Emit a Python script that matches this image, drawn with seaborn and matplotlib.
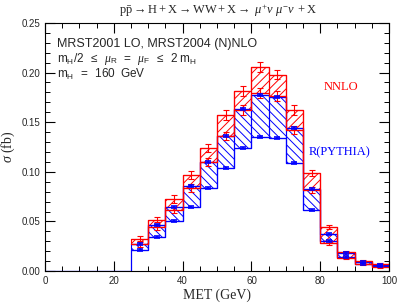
import numpy as np
import pandas as pd
import seaborn as sns
import matplotlib
matplotlib.use('Agg')
import matplotlib.pyplot as plt
from matplotlib.ticker import MultipleLocator

# MET bins (GeV)
edges = [25, 30, 35, 40, 45, 50, 55, 60, 65, 70, 75, 80, 85, 90, 95, 100]

# NNLO band (scale variation), upper and lower edge, with MC errors
nnlo_hi = [0.032, 0.052, 0.073, 0.097, 0.124, 0.157, 0.181, 0.206, 0.198, 0.162, 0.099, 0.044, 0.019, 0.010, 0.007]
nnlo_lo = [0.027, 0.044, 0.062, 0.084, 0.110, 0.136, 0.162, 0.179, 0.176, 0.142, 0.082, 0.028, 0.013, 0.007, 0.004]
nnlo_hi_err = [0.003, 0.003, 0.004, 0.004, 0.004, 0.005, 0.005, 0.005, 0.005, 0.005, 0.003, 0.002, 0.001, 0.001, 0.001]
nnlo_lo_err = [0.003, 0.003, 0.003, 0.004, 0.004, 0.004, 0.005, 0.005, 0.005, 0.004, 0.003, 0.002, 0.001, 0.001, 0.001]

# rescaled PYTHIA band
pythia_hi = [0.027, 0.046, 0.065, 0.086, 0.110, 0.136, 0.163, 0.177, 0.175, 0.144, 0.083, 0.037, 0.018, 0.009, 0.006]
pythia_lo = [0.021, 0.034, 0.050, 0.065, 0.084, 0.104, 0.124, 0.135, 0.134, 0.109, 0.062, 0.030, 0.014, 0.007, 0.005]
pythia_err = [0.001, 0.001, 0.001, 0.001, 0.001, 0.001, 0.001, 0.001, 0.001, 0.001, 0.001, 0.001, 0.001, 0.001, 0.001]

sns.set_style('ticks')
plt.rcParams['font.family'] = ['Liberation Sans', 'DejaVu Sans']
plt.rcParams['mathtext.fontset'] = 'custom'
plt.rcParams['mathtext.rm'] = 'Liberation Serif'
plt.rcParams['mathtext.it'] = 'Liberation Serif:italic'
plt.rcParams['mathtext.sf'] = 'Liberation Sans'
plt.rcParams['hatch.linewidth'] = 0.7

left = edges[:-1]
centers = [e + 2.5 for e in left]

fig, ax = plt.subplots(figsize=(3.99, 3.05), dpi=100)
fig.subplots_adjust(left=0.113, right=0.975, bottom=0.111, top=0.925)

# hatched bands
ax.bar(left, np.subtract(pythia_hi, pythia_lo), bottom=pythia_lo, width=5, align='edge',
       fill=False, edgecolor='blue', hatch='\\\\\\\\', linewidth=0.8)
ax.bar(left, np.subtract(nnlo_hi, nnlo_lo), bottom=nnlo_lo, width=5, align='edge',
       fill=False, edgecolor='red', hatch='////', linewidth=0.8)

# step outlines
def steps(vals, color, start=None):
    x = list(edges)
    y = list(vals) + [vals[-1]]
    if start is not None:
        x = [start] + x
        y = [0] + y
    df = pd.DataFrame({'x': x, 'y': y})
    sns.lineplot(data=df, x='x', y='y', color=color, drawstyle='steps-post',
                 estimator=None, linewidth=0.9, ax=ax)

steps(pythia_lo, 'blue', start=0)
steps(pythia_hi, 'blue')
steps(nnlo_lo, 'red')
steps(nnlo_hi, 'red')

# error bars
for vals, err in [(nnlo_hi, nnlo_hi_err), (nnlo_lo, nnlo_lo_err)]:
    ax.errorbar(centers, vals, yerr=err, fmt='none', ecolor='red',
                capsize=2.5, elinewidth=0.8, capthick=0.8)
for vals in [pythia_hi, pythia_lo]:
    ax.errorbar(centers, vals, yerr=pythia_err, fmt='none', ecolor='blue',
                capsize=2.5, elinewidth=1.2, capthick=1.2)

ax.set_xlim(0, 100)
ax.set_ylim(0, 0.25)
ax.xaxis.set_major_locator(MultipleLocator(20))
ax.xaxis.set_minor_locator(MultipleLocator(5))
ax.yaxis.set_major_locator(MultipleLocator(0.05))
ax.yaxis.set_minor_locator(MultipleLocator(0.01))
ax.tick_params(which='both', direction='in', top=True, right=True, labelsize=7, color='black')
ax.tick_params(which='major', length=7, width=0.8)
ax.tick_params(which='minor', length=3.5, width=0.7)
for s in ax.spines.values():
    s.set_color('black')
    s.set_linewidth(0.8)

ax.set_xlabel('MET (GeV)', family='Liberation Serif', fontsize=10, labelpad=2)
ax.set_ylabel(r'$\sigma$ (fb)', family='Liberation Serif', fontsize=10, labelpad=3)

fig.text(0.548, 0.965,
         r'$\mathrm{p\bar{p}\rightarrow H + X\rightarrow WW + X\rightarrow}\ \mu^{+}\nu\ \mu^{-}\nu\mathrm{\ + X}$',
         ha='center', va='center', fontsize=9)

ax.text(3.5, 0.2255, 'MRST2001 LO, MRST2004 (N)NLO', fontsize=9, va='baseline')
ax.text(3.5, 0.2110,
        r'$\mathsf{m_H/2\ \ \leq\ \ }\mu_\mathsf{R}\mathsf{\ \ =\ \ }\mu_\mathsf{F}\mathsf{\ \ \leq\ \ 2\ m_H}$',
        fontsize=8.5, va='baseline')
ax.text(3.5, 0.1950, r'$\mathsf{m_H\ \ =\ \ 160\ \ GeV}$', fontsize=8.5, va='baseline')

ax.text(81, 0.185, 'NNLO', color='red', family='Liberation Serif', fontsize=9, va='center')
ax.text(76.5, 0.120, 'R(PYTHIA)', color='blue', family='Liberation Serif', fontsize=9, va='center')

fig.savefig('out.png', dpi=100)
